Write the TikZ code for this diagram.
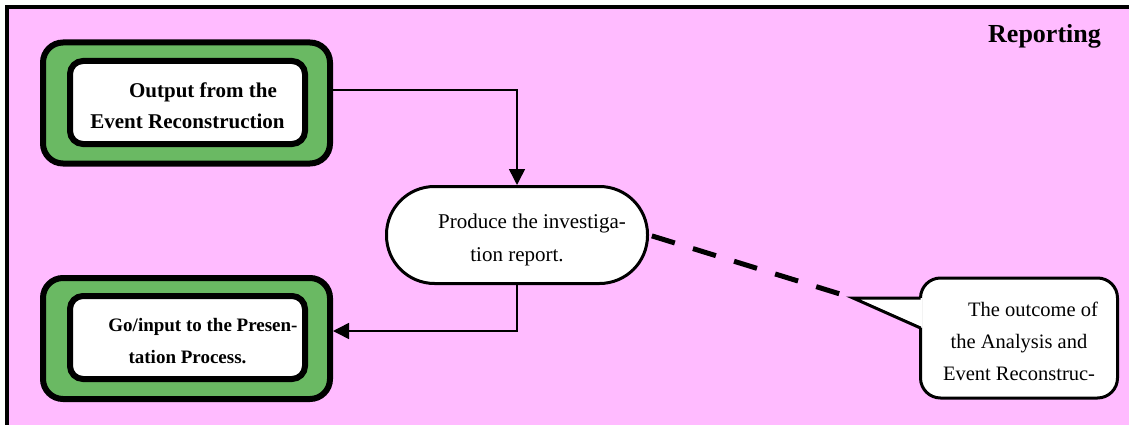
\documentclass[tikz,border=0pt]{standalone}
\usepackage{fontspec}
\setmainfont{Liberation Serif}
\usetikzlibrary{arrows.meta}
\definecolor{pinkbg}{RGB}{255,187,255}
\definecolor{boxgreen}{RGB}{106,185,99}

\begin{document}
\begin{tikzpicture}[x=1pt,y=-1pt,
  outerbox/.style={draw, line width=6pt, fill=boxgreen, rounded corners=20pt, minimum width=287pt, minimum height=121pt},
  innerbox/.style={draw, line width=6pt, fill=white, rounded corners=13pt, minimum width=235pt, minimum height=83pt},
  termbox/.style={draw, line width=3pt, fill=white, rounded corners=48pt, minimum width=261pt, minimum height=97pt},
  callbox/.style={draw, line width=3pt, fill=white, rounded corners=20pt, minimum width=197pt, minimum height=120pt},
  txt/.style={inner sep=0pt, align=center},
  flow/.style={line width=1.5pt, -{Triangle[length=16pt,width=16pt]}},
  ]
\useasboundingbox (0,0) rectangle (1129,425);

\fill[pinkbg] (7,7) rectangle (1129,425);
\draw[line width=4.5pt] (7,425) -- (7,7) -- (1129,7);

\node[font=\bfseries\fontsize{26}{30}\selectfont, anchor=base] (title) at (1044.5,43) {Reporting};

% input and output
\node[outerbox] (out1) at (186.5,103) {};
\node[innerbox, label={[txt, yshift=-3pt, font=\bfseries\fontsize{21}{31}\selectfont]center:{\hspace*{31pt}Output from the\\Event Reconstruction}}] (in1) at (187.5,102.5) {};

\node[outerbox] (out2) at (186.5,338.5) {};
\node[innerbox, label={[txt, yshift=-4pt, font=\bfseries\fontsize{19}{32}\selectfont]center:{\hspace*{31pt}Go/input to the Presen-\\tation Process.}}] (in2) at (187.5,337.5) {};

% process
\node[termbox, label={[txt, yshift=-5pt, font=\fontsize{21}{33}\selectfont]center:{\hspace*{30pt}Produce the investiga-\\tion report.}}] (term) at (517,235) {};

% note
\node[callbox, label={[txt, yshift=-3pt, font=\fontsize{20.5}{32}\selectfont]center:{\hspace*{28pt}The outcome of\\the Analysis and\\Event Reconstruc-}}] (note) at (1019,338) {};
\coordinate (tip) at (853,298);
\fill[white] ([yshift=40pt,xshift=3.5pt]note.west) -- (tip) -- ([yshift=10pt,xshift=3.5pt]note.west) -- cycle;
\draw[line width=3pt] ([yshift=40pt,xshift=1.5pt]note.west) -- (tip) -- ([yshift=10pt,xshift=1.5pt]note.west);

\draw[flow] ([yshift=13pt]out1.east) -| (term.north);
\draw[flow] (term.south) |- ([yshift=7.5pt]out2.east);
\draw[line width=5pt, dash pattern=on 24pt off 19pt, shorten <=3pt] (term.east) -- (tip);

\end{tikzpicture}
\end{document}
